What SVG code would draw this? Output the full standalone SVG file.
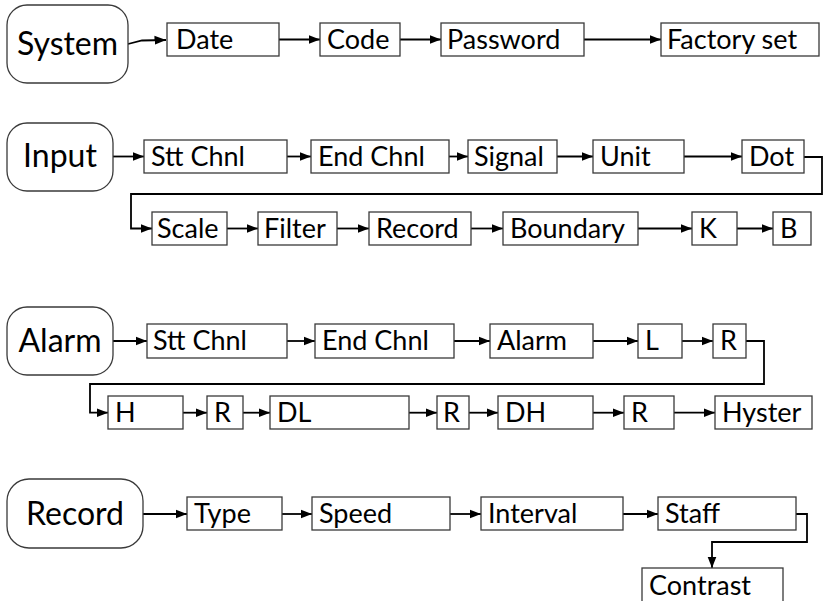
<svg xmlns="http://www.w3.org/2000/svg" width="825" height="601" viewBox="0 0 825 601">
<style>
.box{fill:#fff;stroke:#3a3a3a;stroke-width:1.3}
.rbox{fill:#fff;stroke:#3a3a3a;stroke-width:1.3}
.t{font-family:Lato,"Liberation Sans",sans-serif;font-size:27px;fill:#000}
.tb{font-family:Lato,"Liberation Sans",sans-serif;font-size:32px;fill:#000;text-anchor:middle}
.c{fill:none;stroke:#000;stroke-width:1.8}
</style>
<defs>
<marker id="a" markerUnits="userSpaceOnUse" markerWidth="12" markerHeight="10" refX="11.5" refY="5" orient="auto">
<path d="M0,0.5 L11.5,5 L0,9.5 z" fill="#000"/>
</marker>
</defs>
<rect width="825" height="601" fill="#fff"/>
<g id="connectors">
<path class="c" marker-end="url(#a)" d="M128,44 L142,40.5 L166,40"/>
<path class="c" marker-end="url(#a)" d="M279,39.5 H320"/>
<path class="c" marker-end="url(#a)" d="M400,39.5 H441"/>
<path class="c" marker-end="url(#a)" d="M584,39.5 H661"/>
<path class="c" marker-end="url(#a)" d="M113,156.5 H144"/>
<path class="c" marker-end="url(#a)" d="M287,156.5 H311"/>
<path class="c" marker-end="url(#a)" d="M449,156.5 H468"/>
<path class="c" marker-end="url(#a)" d="M557,156.5 H593"/>
<path class="c" marker-end="url(#a)" d="M684,156.5 H742"/>
<path class="c" marker-end="url(#a)" d="M804,157 H822 V194 H131 V228.5 H152"/>
<path class="c" marker-end="url(#a)" d="M227,228.5 H258"/>
<path class="c" marker-end="url(#a)" d="M337,228.5 H369"/>
<path class="c" marker-end="url(#a)" d="M471,228.5 H503"/>
<path class="c" marker-end="url(#a)" d="M638,228.5 H692"/>
<path class="c" marker-end="url(#a)" d="M737,228.5 H773"/>
<path class="c" marker-end="url(#a)" d="M113,341 H147"/>
<path class="c" marker-end="url(#a)" d="M287,341 H315"/>
<path class="c" marker-end="url(#a)" d="M454,341 H490"/>
<path class="c" marker-end="url(#a)" d="M593,341 H638"/>
<path class="c" marker-end="url(#a)" d="M682,341 H713"/>
<path class="c" marker-end="url(#a)" d="M746,341 H764 V384 H90 V412.7 H108"/>
<path class="c" marker-end="url(#a)" d="M183,412.7 H207"/>
<path class="c" marker-end="url(#a)" d="M243,412.7 H270"/>
<path class="c" marker-end="url(#a)" d="M409,412.7 H437"/>
<path class="c" marker-end="url(#a)" d="M469,412.7 H498"/>
<path class="c" marker-end="url(#a)" d="M593,412.7 H624"/>
<path class="c" marker-end="url(#a)" d="M674,412.7 H715"/>
<path class="c" marker-end="url(#a)" d="M143,514 H187"/>
<path class="c" marker-end="url(#a)" d="M282,514 H312"/>
<path class="c" marker-end="url(#a)" d="M450,514 H481"/>
<path class="c" marker-end="url(#a)" d="M623,514 H658"/>
<path class="c" marker-end="url(#a)" d="M796,514 H807 V542 H712 V568"/>
</g>
<g id="system"><rect class="rbox" x="7" y="5" width="121" height="78" rx="20"/><text class="tb" x="67.5" y="55">System</text></g>
<g id="date"><rect class="box" x="167" y="23" width="112" height="33"/><text class="t" x="176" y="48.5">Date</text></g>
<g id="code"><rect class="box" x="320" y="23" width="80" height="33"/><text class="t" x="327" y="48.5">Code</text></g>
<g id="password"><rect class="box" x="441" y="23" width="143" height="33"/><text class="t" x="447" y="48.5">Password</text></g>
<g id="factory"><rect class="box" x="661" y="23" width="158" height="33"/><text class="t" x="667" y="48.5">Factory set</text></g>

<g id="input"><rect class="rbox" x="7" y="123" width="106" height="68" rx="20"/><text class="tb" x="60" y="167">Input</text></g>
<g id="in-stt"><rect class="box" x="144" y="140" width="143" height="33"/><text class="t" x="151" y="165.5">Stt Chnl</text></g>
<g id="in-end"><rect class="box" x="311" y="140" width="138" height="33"/><text class="t" x="318" y="165.5">End Chnl</text></g>
<g id="signal"><rect class="box" x="468" y="140" width="89" height="33"/><text class="t" x="474" y="165.5">Signal</text></g>
<g id="unit"><rect class="box" x="593" y="140" width="91" height="33"/><text class="t" x="600" y="165.5">Unit</text></g>
<g id="dot"><rect class="box" x="742" y="140" width="62" height="33"/><text class="t" x="749" y="165.5">Dot</text></g>
<g id="scale"><rect class="box" x="152" y="212" width="75" height="33"/><text class="t" x="157" y="237.5">Scale</text></g>
<g id="filter"><rect class="box" x="258" y="212" width="79" height="33"/><text class="t" x="264" y="237.5">Filter</text></g>
<g id="in-record"><rect class="box" x="369" y="212" width="102" height="33"/><text class="t" x="376" y="237.5">Record</text></g>
<g id="boundary"><rect class="box" x="503" y="212" width="135" height="33"/><text class="t" x="510" y="237.5">Boundary</text></g>
<g id="k"><rect class="box" x="692" y="212" width="45" height="33"/><text class="t" x="699" y="237.5">K</text></g>
<g id="b"><rect class="box" x="773" y="212" width="38" height="33"/><text class="t" x="780" y="237.5">B</text></g>

<g id="alarm"><rect class="rbox" x="7" y="307" width="106" height="68" rx="20"/><text class="tb" x="60" y="352">Alarm</text></g>
<g id="al-stt"><rect class="box" x="147" y="324" width="140" height="34"/><text class="t" x="153" y="350">Stt Chnl</text></g>
<g id="al-end"><rect class="box" x="315" y="324" width="139" height="34"/><text class="t" x="322" y="350">End Chnl</text></g>
<g id="al-alarm"><rect class="box" x="490" y="324" width="103" height="34"/><text class="t" x="497" y="350">Alarm</text></g>
<g id="l"><rect class="box" x="638" y="324" width="44" height="34"/><text class="t" x="645" y="350">L</text></g>
<g id="r1"><rect class="box" x="713" y="324" width="33" height="34"/><text class="t" x="720" y="350">R</text></g>
<g id="h"><rect class="box" x="108" y="396" width="75" height="33"/><text class="t" x="115" y="421.5">H</text></g>
<g id="r2"><rect class="box" x="207" y="396" width="36" height="33"/><text class="t" x="214" y="421.5">R</text></g>
<g id="dl"><rect class="box" x="270" y="396" width="139" height="33"/><text class="t" x="277" y="421.5">DL</text></g>
<g id="r3"><rect class="box" x="437" y="396" width="32" height="33"/><text class="t" x="443" y="421.5">R</text></g>
<g id="dh"><rect class="box" x="498" y="396" width="95" height="33"/><text class="t" x="505" y="421.5">DH</text></g>
<g id="r4"><rect class="box" x="624" y="396" width="50" height="33"/><text class="t" x="631" y="421.5">R</text></g>
<g id="hyster"><rect class="box" x="715" y="396" width="97" height="33"/><text class="t" x="722" y="421.5">Hyster</text></g>

<g id="record"><rect class="rbox" x="7" y="479" width="136" height="69" rx="22"/><text class="tb" x="75" y="525">Record</text></g>
<g id="type"><rect class="box" x="187" y="497" width="95" height="33"/><text class="t" x="194" y="522.5">Type</text></g>
<g id="speed"><rect class="box" x="312" y="497" width="138" height="33"/><text class="t" x="319" y="522.5">Speed</text></g>
<g id="interval"><rect class="box" x="481" y="497" width="142" height="33"/><text class="t" x="488" y="522.5">Interval</text></g>
<g id="staff"><rect class="box" x="658" y="497" width="138" height="33"/><text class="t" x="665" y="522.5">Staff</text></g>
<g id="contrast"><rect class="box" x="642" y="568" width="141" height="40"/><text class="t" x="649" y="594.5">Contrast</text></g>
</svg>
